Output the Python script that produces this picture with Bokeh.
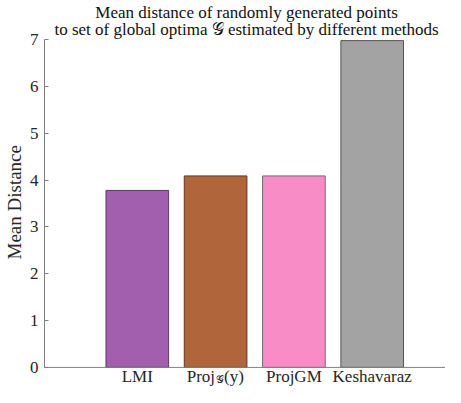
from bokeh.plotting import figure
from bokeh.models import Range1d, FixedTicker, Span, ColumnDataSource, Title
from bokeh.core.properties import value
from bokeh.embed import file_html
from bokeh.resources import INLINE

# ---- data ----
methods = ["LMI", "Proj\U0001D4A2(y)", "ProjGM", "Keshavaraz"]
positions = [1, 2, 3, 4]
mean_dist = [3.78, 4.09, 4.09, 6.98]
fill_colors = ["#A25FAD", "#B0653B", "#F78CC6", "#A3A3A3"]
line_colors = ["#5A3A60", "#5A3A2A", "#6E6E6E", "#555555"]
yticks = [0, 1, 2, 3, 4, 5, 6, 7]
title_lines = ["Mean distance of randomly generated points",
               "to set of global optima \U0001D4A2 estimated by different methods"]

# ---- layout constants ----
FONT = "Liberation Serif"
AX = "#808080"
TXT = "#262626"
X_LO, X_HI = -0.185, 4.936
Y_LO, Y_HI = -0.4295, 7.837
LBL_OFF = 9

src = ColumnDataSource(dict(x=positions, top=mean_dist, fill=fill_colors, line=line_colors))

p = figure(output_backend="svg", toolbar_location=None,
           width=445, height=387,
           x_range=Range1d(X_LO, X_HI), y_range=Range1d(Y_LO, Y_HI),
           min_border_left=43, min_border_right=0, min_border_top=0, min_border_bottom=0)
p.outline_line_color = None
p.background_fill_color = "white"
p.border_fill_color = "white"
p.grid.visible = False
p.xaxis.visible = False

p.vbar(x="x", top="top", width=0.8, bottom=0, fill_color="fill",
       line_color="line", line_width=1, source=src)

# x axis line
p.add_layout(Span(location=0, dimension="width", line_color=AX, line_width=1))

# y axis
p.yaxis.ticker = FixedTicker(ticks=yticks)
p.yaxis.bounds = (yticks[0], yticks[-1])
p.yaxis.major_tick_in = 4
p.yaxis.major_tick_out = 0
p.yaxis.minor_tick_line_color = None
p.yaxis.axis_line_color = AX
p.yaxis.major_tick_line_color = AX
p.yaxis.major_label_text_font = FONT
p.yaxis.major_label_text_font_size = "17px"
p.yaxis.major_label_text_color = TXT
p.yaxis.major_label_standoff = 6

# y axis label as a left title
p.add_layout(Title(text="Mean Distance", align="left", offset=128, text_font=FONT,
                   text_font_size="19px", text_font_style="normal", text_color=TXT,
                   standoff=3), "left")

# x tick labels (drawn as text at category positions)
plain_idx = [0, 2, 3]
lab_src = ColumnDataSource(dict(x=[positions[i] for i in plain_idx], y=[0] * len(plain_idx),
                                t=[methods[i] for i in plain_idx]))
p.text(x="x", y="y", text="t", source=lab_src, text_font=value(FONT),
       text_font_size="17px", text_color=TXT, text_align="center",
       text_baseline="alphabetic", y_offset=LBL_OFF)

# Proj_G(y) with subscript
p.text(x=[positions[1]], y=[0], text=["Proj"], text_font=value(FONT), text_font_size="17px",
       text_color=TXT, text_align="right", text_baseline="alphabetic", x_offset=-0.5, y_offset=LBL_OFF)
p.text(x=[positions[1]], y=[0], text=["\U0001D4A2"], text_font=value(FONT), text_font_size="11px",
       text_color=TXT, text_align="left", text_baseline="alphabetic", x_offset=0.5, y_offset=LBL_OFF + 3)
p.text(x=[positions[1]], y=[0], text=["(y)"], text_font=value(FONT), text_font_size="17px",
       text_color=TXT, text_align="left", text_baseline="alphabetic", x_offset=8.5, y_offset=LBL_OFF)

# two-line title
xc = (X_LO + X_HI) / 2 + 0.02
p.text(x=[xc, xc], y=[Y_HI, Y_HI], text=title_lines, text_font=value(FONT),
       text_font_size="17px", text_color="#111111", text_align="center",
       text_baseline="alphabetic", y_offset=[12, 29])

open("out.html", "w").write(file_html(p, INLINE))
